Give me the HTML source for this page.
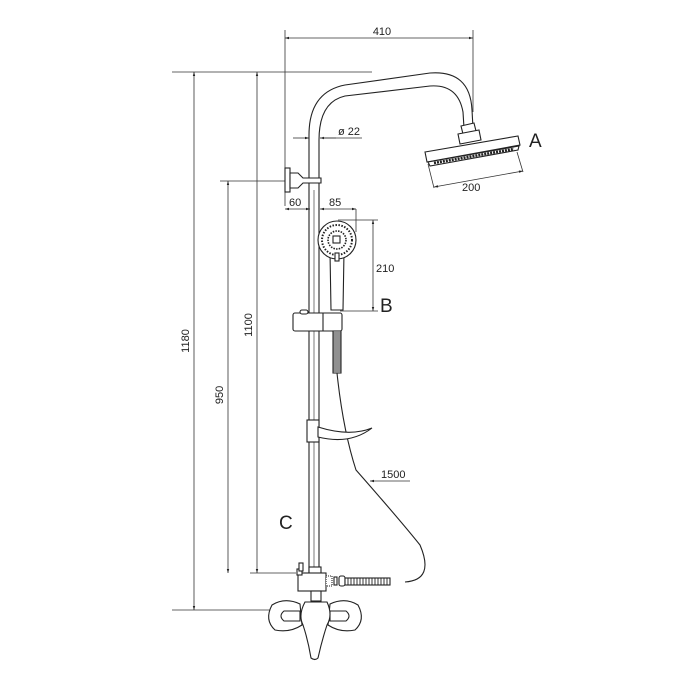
<!DOCTYPE html>
<html><head><style>
html,body{margin:0;padding:0;background:#fff;}
svg{display:block;}
text{font-family:"Liberation Sans",sans-serif;fill:#222;}
</style></head><body>
<svg width="700" height="700" viewBox="0 0 700 700" xmlns="http://www.w3.org/2000/svg">
<defs>
<marker id="ar" viewBox="0 0 10 10" refX="10" refY="5" markerWidth="7" markerHeight="5" orient="auto-start-reverse"><path d="M0,2 L10,5 L0,8z" fill="#222"/></marker>
</defs>
<g stroke="#333" stroke-width="0.8" fill="none">
<line x1="172" y1="72" x2="372" y2="72"/>
<line x1="172" y1="610" x2="282" y2="610"/>
<line x1="220" y1="181" x2="290" y2="181"/>
<line x1="250" y1="573" x2="296" y2="573"/>
<line x1="285" y1="30" x2="285" y2="206"/>
<line x1="473" y1="30" x2="473" y2="112"/>
<line x1="194" y1="72" x2="194" y2="610" marker-start="url(#ar)" marker-end="url(#ar)"/>
<line x1="257" y1="72" x2="257" y2="573" marker-start="url(#ar)" marker-end="url(#ar)"/>
<line x1="228" y1="181" x2="228" y2="573" marker-start="url(#ar)" marker-end="url(#ar)"/>
<line x1="285" y1="38" x2="473" y2="38" marker-start="url(#ar)" marker-end="url(#ar)"/>
<line x1="293" y1="138" x2="309" y2="138" marker-end="url(#ar)"/>
<line x1="336" y1="138" x2="320" y2="138" marker-end="url(#ar)"/>
<line x1="320" y1="138" x2="362" y2="138"/>
<line x1="285" y1="209" x2="310" y2="209" marker-start="url(#ar)" marker-end="url(#ar)"/>
<line x1="320" y1="209" x2="356" y2="209" marker-start="url(#ar)" marker-end="url(#ar)"/>
<line x1="356" y1="209" x2="356" y2="232"/>
<line x1="338" y1="220" x2="378" y2="220"/>
<line x1="340" y1="311" x2="378" y2="311"/>
<line x1="373" y1="220" x2="373" y2="311" marker-start="url(#ar)" marker-end="url(#ar)"/>
<line x1="428" y1="164" x2="434" y2="188"/>
<line x1="517" y1="152" x2="523" y2="172"/>
<line x1="434" y1="187" x2="523" y2="171" marker-start="url(#ar)" marker-end="url(#ar)"/>
<line x1="410" y1="481" x2="370" y2="481" marker-end="url(#ar)"/>
</g>
<g stroke="#222" stroke-width="1.1" fill="#fff">
<path d="M309,575 L309,135 Q309,92 345,85 L430,73 Q470,70 472,110 L473,128" fill="none"/>
<path d="M319,575 L319,140 Q319,102 345,96 L430,86 Q458,84 463,112 L464,128" fill="none"/>
<line x1="314" y1="190" x2="314" y2="575" stroke-width="0.6"/>
<!-- shower head -->
<path d="M461,126 L474,123 L476,131 L463,134z"/>
<path d="M458,134 L479,130 L481,140 L460,144z"/>
<path d="M425,152 L518,136 L520,145 L427,162z"/>
<path d="M428,162 L519,146 L518,150 L430,166z"/>
<path d="M434,163 L514,149" stroke-dasharray="2 1" stroke-width="2.6"/>
<!-- wall bracket -->
<rect x="285" y="168" width="5" height="24"/>
<path d="M290,173 L298,173 L303,178 L321,178 L321,183 L303,183 L298,188 L290,188z"/>
<!-- hand shower -->
<path d="M330,252 L331,310 L343,310 L344,252z"/>
<circle cx="337" cy="240" r="19"/>
<circle cx="337" cy="240" r="15" stroke-dasharray="1.5 1.5" stroke-width="2"/>
<circle cx="337" cy="240" r="9" stroke-dasharray="1.5 1.2" stroke-width="1.6"/>
<rect x="333" y="236" width="7" height="7"/>
<rect x="335" y="253" width="4" height="8"/>
<!-- slider -->
<rect x="293" y="313" width="49" height="18" rx="2"/>
<line x1="323" y1="313" x2="323" y2="331"/>
<rect x="300" y="310" width="8" height="4" rx="2"/>
<!-- hose coil -->
<rect x="333" y="331" width="8" height="42"/>
<path d="M333,333 H341 M333,335 H341 M333,337 H341 M333,339 H341 M333,341 H341 M333,343 H341 M333,345 H341 M333,347 H341 M333,349 H341 M333,351 H341 M333,353 H341 M333,355 H341 M333,357 H341 M333,359 H341 M333,361 H341 M333,363 H341 M333,365 H341 M333,367 H341 M333,369 H341 M333,371 H341" stroke-width="0.9"/>
<path d="M337,373 Q343,430 356,470 Q400,520 420,545 Q435,580 405,582" fill="none"/>
<!-- soap dish -->
<rect x="307" y="420" width="12" height="22"/>
<path d="M318,427 Q350,437 372,428 Q350,445 318,437z"/>
<!-- diverter -->
<rect x="309" y="567" width="12" height="8"/>
<rect x="298" y="573" width="28" height="18"/>
<rect x="297" y="569" width="5" height="6"/>
<rect x="299" y="563" width="4" height="8"/>
<rect x="326" y="576" width="6" height="10" stroke-dasharray="1 1"/>
<rect x="334" y="577" width="3" height="8"/>
<rect x="339" y="576" width="6" height="10" rx="2"/>
<rect x="345" y="578" width="45" height="7"/>
<path d="M348,578 V585 M351,578 V585 M354,578 V585 M357,578 V585 M360,578 V585 M363,578 V585 M366,578 V585 M369,578 V585 M372,578 V585 M375,578 V585 M378,578 V585 M381,578 V585 M384,578 V585 M387,578 V585" stroke-width="0.9"/>
<rect x="311" y="591" width="10" height="10"/>
<!-- faucet -->
<path d="M300,604 Q285,597 272,605 Q264,620 275,630 Q290,633 302,625z"/>
<path d="M284,611 L300,611 L300,621 L284,621 Q278,616 284,611z"/>
<path d="M330,604 Q345,597 358,605 Q366,620 355,630 Q340,633 328,625z"/>
<path d="M346,611 L330,611 L330,621 L346,621 Q352,616 346,611z"/>
<path d="M305,602 L327,602 Q333,615 327,625 Q322,640 318,658 Q315,661 311,658 Q308,640 303,625 Q298,615 305,602z"/>
</g>
<g font-size="11">
<text x="382" y="35" text-anchor="middle">410</text>
<text x="338" y="135">ø 22</text>
<text x="289" y="206">60</text>
<text x="329" y="206">85</text>
<text x="376" y="272">210</text>
<text x="462" y="191">200</text>
<text x="381" y="478">1500</text>
<text transform="translate(189,341) rotate(-90)" text-anchor="middle">1180</text>
<text transform="translate(252,325) rotate(-90)" text-anchor="middle">1100</text>
<text transform="translate(223,395) rotate(-90)" text-anchor="middle">950</text>
</g>
<g font-size="19">
<text x="529" y="147">A</text>
<text x="380" y="312">B</text>
<text x="279" y="529">C</text>
</g>
</svg>
</body></html>
